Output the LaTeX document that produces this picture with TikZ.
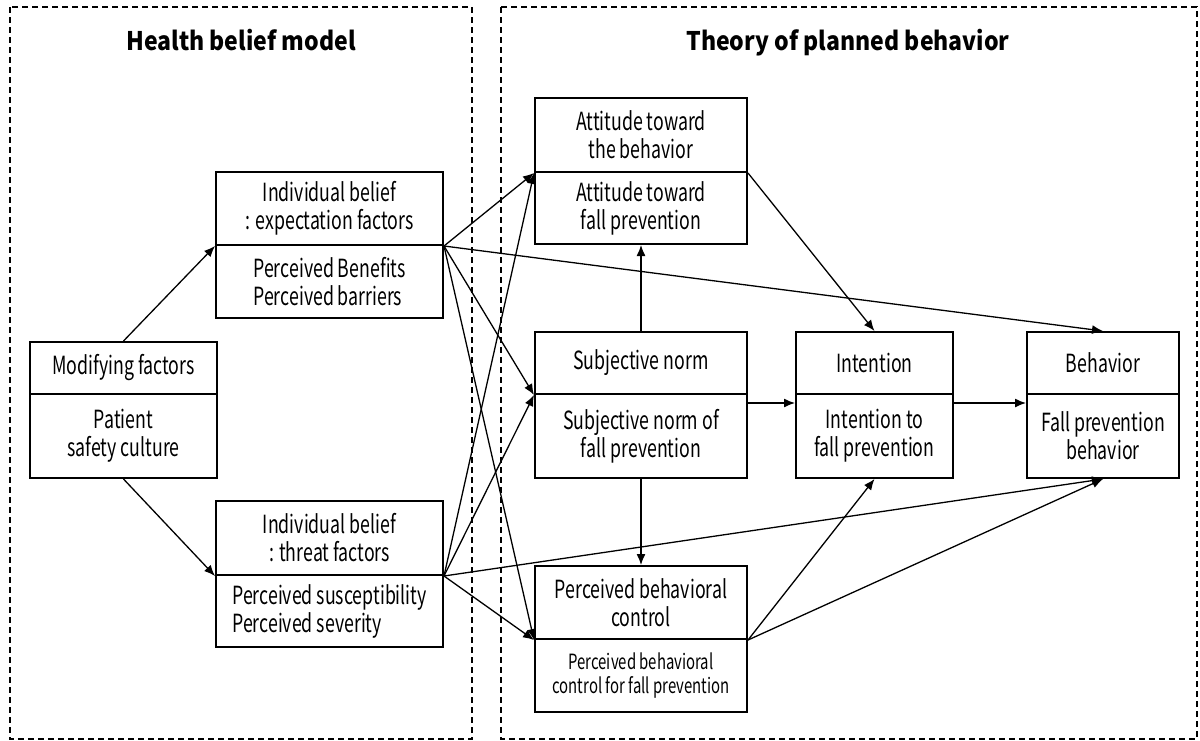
\documentclass[tikz,border=0pt]{standalone}
\usepackage{fontspec}
\setmainfont{Noto Sans CJK KR}
\newfontfamily\bodyfont{Noto Sans CJK KR}[FakeStretch=0.71]
\newfontfamily\headfont{Noto Sans CJK KR}[FakeStretch=0.9]
\usetikzlibrary{arrows.meta}
\tikzset{
  partbox/.style={draw, line width=1pt, inner sep=0pt, align=center,
    font=\bodyfont\fontsize{12.5}{14}\selectfont},
  smalltext/.style={font=\bodyfont\fontsize{10.5}{12}\selectfont},
  conn/.style={line width=0.65pt, -{Latex[length=5.5pt,width=4.5pt]}},
  frame/.style={line width=1pt, dash pattern=on 3pt off 2pt},
  titletext/.style={anchor=base, inner sep=0pt, font=\headfont\bfseries\fontsize{12.8}{16}\selectfont},
}
\newcommand\boxpart[7][]{\node[partbox, #1, minimum width={(#5-#3)*0.5pt}, minimum height={(#6-#4)*0.5pt}] (#2) at ({(#3+#5)/2},{(#4+#6)/2}) {#7};}
\begin{document}
\begin{tikzpicture}[x=0.5pt, y=-0.5pt]
\useasboundingbox (0,0) rectangle (1200,740);
% frames
\draw[frame] (10,7) rectangle (472,739);
\draw[frame] (501,7) rectangle (1197,739);
\node[titletext] (hbm) at (241,50) {Health belief model};
\node[titletext] (tpb) at (848,50) {Theory of planned behavior};
% health belief model
\boxpart{modT}{30}{342}{217}{394}{Modifying factors}
\boxpart{modB}{30}{394}{217}{478}{Patient\\safety culture}
\boxpart{expT}{216}{172}{443}{245}{Individual belief\\: expectation factors}
\boxpart[align=left]{expB}{216}{245}{443}{318}{Perceived Benefits\\Perceived barriers}
\boxpart{thrT}{216}{501}{443}{575}{Individual belief\\: threat factors}
\boxpart[align=left]{thrB}{216}{575}{443}{647}{Perceived susceptibility\\Perceived severity}
% theory of planned behavior
\boxpart{attT}{535}{98}{747}{172}{Attitude toward\\the behavior}
\boxpart{attB}{535}{172}{747}{244}{Attitude toward\\fall prevention}
\boxpart{snT}{535}{332}{747}{394}{Subjective norm}
\boxpart{snB}{535}{394}{747}{478}{Subjective norm of\\fall prevention}
\boxpart{intT}{796}{332}{953}{394}{Intention}
\boxpart{intB}{796}{394}{953}{478}{Intention to\\fall prevention}
\boxpart{behT}{1027}{332}{1179}{394}{Behavior}
\boxpart{behB}{1027}{394}{1179}{478}{Fall prevention\\behavior}
\boxpart{pbcT}{535}{566}{747}{639}{Perceived behavioral\\control}
\boxpart[smalltext]{pbcB}{535}{639}{747}{712}{Perceived behavioral\\control for fall prevention}
% connectors
\draw[conn] (modT.north) -- (expT.south west);
\draw[conn] (modB.south) -- (thrT.south west);
\draw[conn] (expT.south east) -- (attT.south west);
\draw[conn] (expT.south east) -- (behT.north);
\draw[conn] (expT.south east) -- (snT.south west);
\draw[conn] (expT.south east) -- (pbcT.south west);
\draw[conn] (thrT.south east) -- (attT.south west);
\draw[conn] (thrT.south east) -- (snT.south west);
\draw[conn] (thrT.south east) -- (behB.south);
\draw[conn] (thrT.south east) -- (pbcT.south west);
\draw[conn] (attT.south east) -- (intT.north);
\draw[conn] (snT.north) -- (attB.south);
\draw[conn] (snB.south) -- (pbcT.north);
\draw[conn] ([yshift=-5pt]snB.north east) -- ([yshift=-5pt]intB.north west);
\draw[conn] ([yshift=-5pt]intB.north east) -- ([yshift=-5pt]behB.north west);
\draw[conn] (pbcT.south east) -- (intB.south);
\draw[conn] (pbcT.south east) -- (behB.south);
\end{tikzpicture}
\end{document}
